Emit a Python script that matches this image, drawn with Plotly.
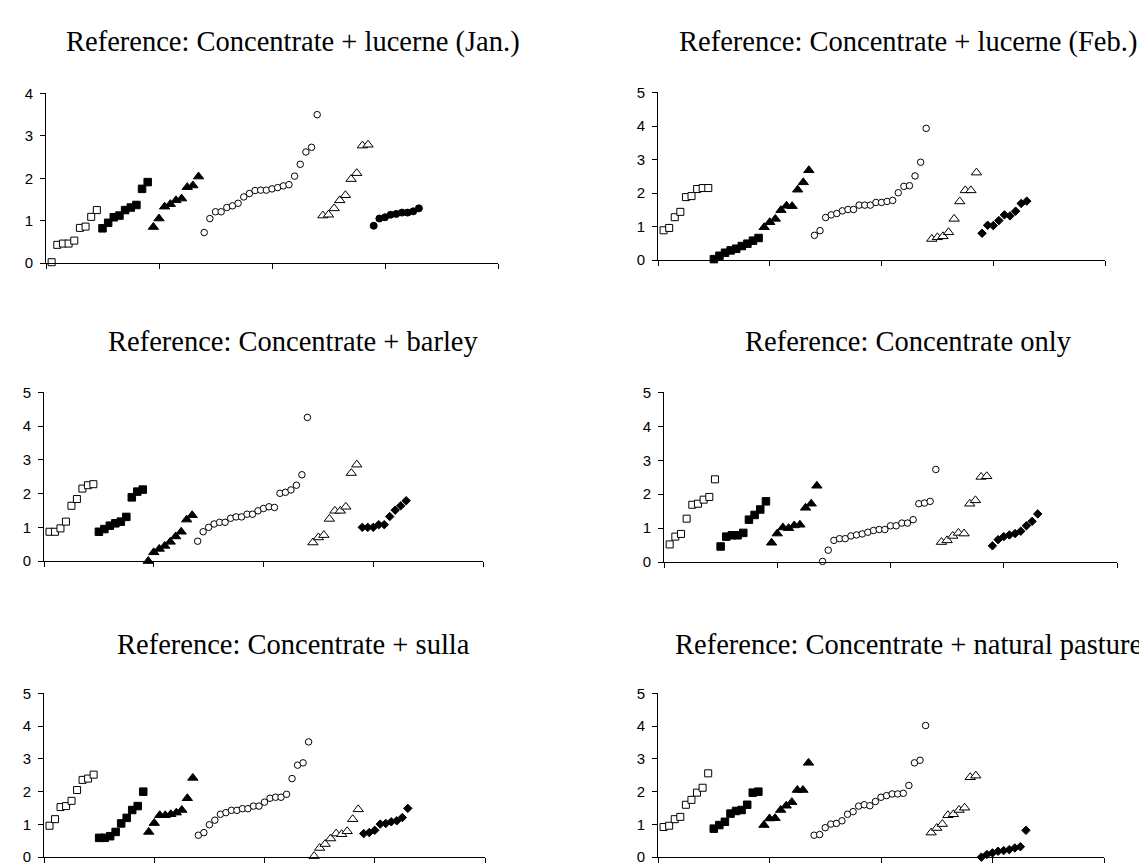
import plotly.graph_objects as go

W, H = 1147, 865

# ---------------- data ----------------
titles = [
    "Reference: Concentrate + lucerne (Jan.)",
    "Reference: Concentrate + lucerne (Feb.)",
    "Reference: Concentrate + barley",
    "Reference: Concentrate only",
    "Reference: Concentrate + sulla",
    "Reference: Concentrate + natural pasture",
]

# Panel 1: lucerne (Jan.)
jan_g1 = [0.02, 0.43, 0.46, 0.46, 0.53, 0.83, 0.86, 1.09, 1.25]
jan_g2 = [0.82, 0.95, 1.08, 1.12, 1.25, 1.31, 1.37, 1.75, 1.91]
jan_g3 = [0.85, 1.05, 1.33, 1.39, 1.48, 1.52, 1.79, 1.83, 2.04]
jan_g4 = [0.72, 1.05, 1.21, 1.21, 1.31, 1.35, 1.41, 1.56, 1.64, 1.71, 1.72,
          1.72, 1.75, 1.78, 1.82, 1.85, 2.05, 2.33, 2.62, 2.73, 3.50]
jan_g5 = [1.12, 1.14, 1.29, 1.48, 1.60, 1.98, 2.12, 2.77, 2.79]
jan_g6 = [0.88, 1.05, 1.08, 1.14, 1.16, 1.19, 1.19, 1.22, 1.29]

# Panel 2: lucerne (Feb.)
feb_g1 = [0.89, 0.96, 1.28, 1.44, 1.88, 1.91, 2.12, 2.15, 2.15]
feb_g2 = [0.03, 0.13, 0.22, 0.29, 0.34, 0.42, 0.49, 0.58, 0.66]
feb_g3 = [0.98, 1.13, 1.23, 1.49, 1.62, 1.61, 2.10, 2.32, 2.68]
feb_g4 = [0.74, 0.88, 1.27, 1.35, 1.39, 1.47, 1.51, 1.51, 1.64, 1.64, 1.64,
          1.72, 1.72, 1.75, 1.78, 2.01, 2.20, 2.22, 2.51, 2.92, 3.93]
feb_g5 = [0.63, 0.68, 0.71, 0.83, 1.23, 1.75, 2.08, 2.08, 2.61]
feb_g6 = [0.80, 1.04, 1.03, 1.18, 1.35, 1.32, 1.46, 1.69, 1.76]

# Panel 3: barley
bar_g1 = [0.87, 0.87, 0.97, 1.17, 1.64, 1.84, 2.15, 2.25, 2.28]
bar_g2 = [0.87, 0.95, 1.05, 1.12, 1.17, 1.31, 1.89, 2.06, 2.12]
bar_g3 = [0.00, 0.26, 0.36, 0.45, 0.57, 0.73, 0.87, 1.23, 1.36]
bar_g4 = [0.59, 0.87, 1.00, 1.10, 1.15, 1.15, 1.27, 1.31, 1.31, 1.39, 1.39,
          1.49, 1.56, 1.61, 1.59, 2.01, 2.04, 2.11, 2.25, 2.56, 4.26]
bar_g5 = [0.55, 0.70, 0.77, 1.25, 1.49, 1.49, 1.61, 2.61, 2.86]
bar_g6 = [1.00, 1.00, 1.00, 1.08, 1.08, 1.32, 1.51, 1.64, 1.79]

# Panel 4: concentrate only
con_g1 = [0.52, 0.75, 0.83, 1.28, 1.69, 1.72, 1.84, 1.92, 2.44]
con_g2 = [0.46, 0.75, 0.79, 0.79, 0.86, 1.25, 1.39, 1.55, 1.79]
con_g3 = [0.57, 0.84, 1.02, 1.00, 1.08, 1.10, 1.60, 1.72, 2.25]
con_g4 = [0.02, 0.35, 0.64, 0.69, 0.69, 0.77, 0.80, 0.83, 0.88, 0.93, 0.96,
          0.96, 1.07, 1.07, 1.15, 1.15, 1.25, 1.72, 1.74, 1.79, 2.73]
con_g5 = [0.59, 0.64, 0.77, 0.86, 0.84, 1.72, 1.82, 2.51, 2.53]
con_g6 = [0.48, 0.66, 0.75, 0.80, 0.84, 0.91, 1.07, 1.20, 1.42]

# Panel 5: sulla
sul_g1 = [0.96, 1.16, 1.53, 1.56, 1.72, 2.05, 2.36, 2.40, 2.52]
sul_g2 = [0.59, 0.59, 0.64, 0.77, 1.03, 1.20, 1.44, 1.56, 2.00]
sul_g3 = [0.77, 1.04, 1.28, 1.28, 1.31, 1.36, 1.44, 1.80, 2.42]
sul_g4 = [0.67, 0.75, 0.99, 1.13, 1.31, 1.36, 1.43, 1.43, 1.48, 1.48, 1.56,
          1.56, 1.68, 1.80, 1.83, 1.83, 1.92, 2.40, 2.81, 2.88, 3.52]
sul_g5 = [0.03, 0.28, 0.40, 0.57, 0.72, 0.70, 0.79, 1.16, 1.46]
sul_g6 = [0.72, 0.75, 0.82, 1.01, 1.03, 1.08, 1.11, 1.21, 1.49]

# Panel 6: natural pasture
nat_g1 = [0.92, 0.96, 1.16, 1.23, 1.60, 1.75, 1.97, 2.12, 2.56]
nat_g2 = [0.87, 0.98, 1.08, 1.33, 1.41, 1.44, 1.60, 1.97, 2.00]
nat_g3 = [0.98, 1.18, 1.19, 1.44, 1.57, 1.68, 2.05, 2.05, 2.88]
nat_g4 = [0.67, 0.69, 0.90, 1.01, 1.03, 1.11, 1.31, 1.39, 1.56, 1.60, 1.57,
          1.70, 1.83, 1.88, 1.93, 1.93, 1.95, 2.19, 2.88, 2.96, 4.02]
nat_g5 = [0.75, 0.89, 1.01, 1.28, 1.31, 1.44, 1.51, 2.44, 2.49]
nat_g6 = [0.00, 0.08, 0.13, 0.18, 0.20, 0.23, 0.28, 0.32, 0.82]

panels_data = [
    [jan_g1, jan_g2, jan_g3, jan_g4, jan_g5, jan_g6],
    [feb_g1, feb_g2, feb_g3, feb_g4, feb_g5, feb_g6],
    [bar_g1, bar_g2, bar_g3, bar_g4, bar_g5, bar_g6],
    [con_g1, con_g2, con_g3, con_g4, con_g5, con_g6],
    [sul_g1, sul_g2, sul_g3, sul_g4, sul_g5, sul_g6],
    [nat_g1, nat_g2, nat_g3, nat_g4, nat_g5, nat_g6],
]
y_max = [4, 5, 5, 5, 5, 5]
x_ticks = [0, 20, 40, 60, 80]

# ---------------- styles ----------------
# (symbol, fill, size)
group_styles = [
    ("square", "white", 7),
    ("square", "black", 7.5),
    ("triangle-up", "black", 9),
    ("circle", "white", 6.5),
    ("triangle-up", "white", 9),
    ("diamond", "black", 6.5),
]
last_style_jan = ("circle", "black", 7)

# pixel boxes (x0, x1, ytop, ybottom)
boxes = [
    (38, 490, 78, 251),
    (650, 1097, 77, 248),
    (36, 475, 383, 555),
    (656, 1109, 383, 556),
    (36, 477, 690, 857),
    (650, 1096, 690, 857),
]
title_pos = [(285, 26), (900, 26), (285, 331), (900, 331), (285, 640), (900, 640)]

fig = go.Figure()
layout_axes = {}
for p, groups in enumerate(panels_data):
    k = "" if p == 0 else str(p + 1)
    xa, ya = "x" + k, "y" + k
    start = 1
    for g, vals in enumerate(groups):
        sym, fill, size = group_styles[g]
        if p == 0 and g == 5:
            sym, fill, size = last_style_jan
        xs = list(range(start, start + len(vals)))
        start += len(vals)
        fig.add_trace(go.Scatter(
            x=xs, y=vals, mode="markers", xaxis=xa, yaxis=ya,
            showlegend=False, cliponaxis=False,
            marker=dict(symbol=sym, size=size, color=fill,
                        line=dict(color="black", width=1)),
        ))
    x0, x1, yt, yb = boxes[p]
    layout_axes["xaxis" + k] = dict(
        domain=[x0 / W, x1 / W], anchor=ya, range=[0, 80],
        tickvals=x_ticks, showticklabels=False, ticks="outside", ticklen=5,
        tickcolor="black", showline=True, linecolor="black", linewidth=1,
        showgrid=False, zeroline=False, fixedrange=True,
    )
    layout_axes["yaxis" + k] = dict(
        domain=[(H - yb) / H, (H - yt) / H], anchor=xa, range=[0, y_max[p]],
        dtick=1, tick0=0, ticks="outside", ticklen=5, tickcolor="black",
        showline=True, linecolor="black", linewidth=1,
        showgrid=False, zeroline=False, fixedrange=True,
        tickfont=dict(family="Liberation Sans, Arial", size=15, color="black"),
        ticklabelstandoff=4,
    )

annotations = []
for p, t in enumerate(titles):
    cx, cy = title_pos[p]
    annotations.append(dict(
        text=t, x=cx / W, y=(H - cy) / H, xref="paper", yref="paper",
        xanchor="center", yanchor="middle", showarrow=False,
        font=dict(family="Liberation Serif, Times New Roman", size=28.5, color="black"),
    ))

fig.update_layout(
    width=W, height=H, margin=dict(l=0, r=0, t=0, b=0),
    paper_bgcolor="white", plot_bgcolor="white",
    annotations=annotations, **layout_axes,
)

fig.write_html("out.html", config={"displayModeBar": False})
